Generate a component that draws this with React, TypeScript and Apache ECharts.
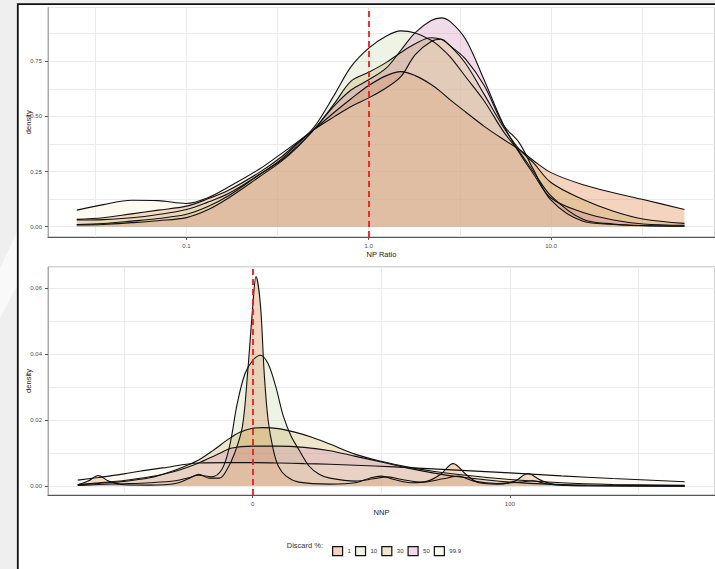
import React, { useEffect, useRef } from 'react';
import * as echarts from 'echarts';

// ---- Legend / groups ----
const discardLevels = ['1', '10', '30', '50', '99.9'];
const fillColors = [
  'rgba(211,79,0,0.25)',
  'rgba(187,207,155,0.25)',
  'rgba(191,155,51,0.25)',
  'rgba(199,111,163,0.25)',
  'rgba(247,235,199,0.25)',
];
const legendColors = ['#f4d3bf', '#eef3e6', '#efe6cc', '#f1dbe8', '#fdfaf1'];

// ---- Top panel: NP Ratio (log scale) ----
const npRatio = [0.025, 0.035, 0.05, 0.07, 0.1, 0.13, 0.17, 0.25, 0.33, 0.4, 0.5, 0.65, 0.8, 1.0, 1.25, 1.5, 1.8, 2.2, 2.5, 2.8, 3.4, 4.3, 5.5, 6.7, 8, 10, 15, 22, 32, 54];
const npDensity1 = [0.033, 0.04, 0.058, 0.075, 0.093, 0.125, 0.165, 0.245, 0.315, 0.375, 0.44, 0.52, 0.58, 0.64, 0.685, 0.703, 0.685, 0.645, 0.61, 0.575, 0.52, 0.455, 0.395, 0.35, 0.3, 0.245, 0.19, 0.154, 0.123, 0.078];
const npDensity10 = [0.03, 0.032, 0.04, 0.055, 0.078, 0.11, 0.15, 0.235, 0.305, 0.37, 0.45, 0.6, 0.726, 0.81, 0.865, 0.888, 0.878, 0.845, 0.81, 0.77, 0.68, 0.57, 0.43, 0.34, 0.25, 0.14, 0.033, 0.012, 0.005, 0.003];
const npDensity30 = [0.01, 0.014, 0.025, 0.037, 0.056, 0.09, 0.14, 0.235, 0.3, 0.36, 0.44, 0.56, 0.66, 0.7, 0.745, 0.79, 0.83, 0.857, 0.85, 0.82, 0.74, 0.6, 0.45, 0.35, 0.29, 0.2, 0.123, 0.07, 0.035, 0.015];
const npDensity50 = [0.008, 0.01, 0.018, 0.027, 0.041, 0.075, 0.13, 0.225, 0.295, 0.355, 0.44, 0.55, 0.62, 0.666, 0.72, 0.8, 0.88, 0.935, 0.947, 0.93, 0.85, 0.665, 0.46, 0.335, 0.24, 0.13, 0.064, 0.03, 0.012, 0.006];
const npDensity999 = [0.075, 0.1, 0.12, 0.118, 0.105, 0.13, 0.18, 0.26, 0.33, 0.38, 0.44, 0.5, 0.545, 0.584, 0.63, 0.68, 0.78, 0.84, 0.85, 0.82, 0.76, 0.64, 0.46, 0.38, 0.26, 0.12, 0.024, 0.01, 0.004, 0.002];
const npDensities = [npDensity1, npDensity10, npDensity30, npDensity50, npDensity999];
const npRatioTicks = [0.1, 1, 10];
const npDensityTicks = [0, 0.25, 0.5, 0.75];
const npReference = 1;

// ---- Bottom panel: NNP ----
const nnp1 = [-68, -64, -60, -56, -50, -40, -30, -25, -21, -17, -13, -10, -7, -4, -2, 0, 1.3, 3, 4.5, 6, 8, 10, 13, 18, 30, 40, 46, 50, 55, 62, 68, 73, 78, 83, 88, 95, 102, 107, 112, 118, 130, 168];
const nnpDensity1 = [0.0004, 0.0015, 0.0032, 0.0015, 0.0004, 0.0003, 0.0008, 0.0022, 0.0036, 0.0024, 0.0024, 0.005, 0.01, 0.018, 0.034, 0.054, 0.0634, 0.055, 0.034, 0.02, 0.011, 0.006, 0.003, 0.0012, 0.0006, 0.001, 0.0025, 0.003, 0.002, 0.001, 0.0015, 0.0035, 0.0068, 0.0035, 0.001, 0.0006, 0.0015, 0.0038, 0.0018, 0.0004, 0.0001, 0];
const nnp10 = [-68, -60, -50, -40, -30, -25, -21, -16, -12, -9, -6, -3, 0, 3, 6, 9, 12, 15, 18, 22, 26, 30, 40, 47, 52, 58, 66, 74, 80, 86, 95, 104, 109, 115, 130, 168];
const nnpDensity10 = [0.0002, 0.0005, 0.0007, 0.001, 0.0016, 0.0025, 0.0033, 0.0028, 0.005, 0.012, 0.025, 0.034, 0.038, 0.0396, 0.037, 0.03, 0.021, 0.015, 0.011, 0.006, 0.0035, 0.0024, 0.0015, 0.0022, 0.0028, 0.002, 0.0012, 0.0022, 0.003, 0.0015, 0.0008, 0.0012, 0.0016, 0.0006, 0.0001, 0];
const nnp30 = [-68, -60, -50, -40, -34, -27, -21, -15, -10, -5, 0, 4, 10, 16, 23, 30, 40, 50, 60, 70, 80, 100, 120, 140, 168];
const nnpDensity30 = [0.0003, 0.0008, 0.0014, 0.0025, 0.0038, 0.0058, 0.0079, 0.011, 0.0139, 0.0163, 0.0175, 0.0177, 0.0174, 0.0164, 0.0148, 0.0127, 0.0096, 0.0075, 0.0058, 0.0045, 0.0035, 0.002, 0.001, 0.0005, 0.0002];
const nnp50 = [-68, -60, -50, -40, -30, -21, -14, -8, 0, 10, 20, 30, 40, 50, 60, 70, 80, 100, 120, 140, 168];
const nnpDensity50 = [0.0005, 0.001, 0.0017, 0.0028, 0.0045, 0.007, 0.0095, 0.0115, 0.0121, 0.0121, 0.0117, 0.0107, 0.009, 0.0073, 0.0055, 0.004, 0.0028, 0.0012, 0.0005, 0.0002, 0.0001];
const nnp999 = [-68, -60, -50, -44, -35, -21, -10, 0, 10, 20, 30, 40, 55, 70, 85, 100, 120, 140, 168];
const nnpDensity999 = [0.0018, 0.0026, 0.0037, 0.0045, 0.0055, 0.007, 0.0071, 0.0071, 0.007, 0.0068, 0.0066, 0.0063, 0.0058, 0.0052, 0.0046, 0.004, 0.0031, 0.0023, 0.0013];
const nnpX = [nnp1, nnp10, nnp30, nnp50, nnp999];
const nnpDensities = [nnpDensity1, nnpDensity10, nnpDensity30, nnpDensity50, nnpDensity999];
const nnpTicks = [0, 100];
const nnpDensityTicks = [0, 0.02, 0.04, 0.06];
const nnpReference = 0;

const FONT = 'Liberation Sans, Arial, Helvetica, sans-serif';
const GRID_LINE = '#ebebeb';
const TICK_TEXT = '#4d4d4d';

function gridAxisX(gridIndex: number, min: number, max: number, step: number) {
  return {
    type: 'value', gridIndex, position: 'bottom', min, max, minInterval: step, maxInterval: step,
    axisLine: { show: true, onZero: false, lineStyle: { color: '#555', width: 1.2 } },
    axisTick: { show: false }, axisLabel: { show: false },
    splitLine: { show: true, lineStyle: { color: GRID_LINE, width: 1 } },
  };
}
function gridAxisY(gridIndex: number, min: number, max: number, step: number) {
  return {
    type: 'value', gridIndex, position: 'left', min, max, minInterval: step, maxInterval: step,
    axisLine: { show: true, onZero: false, lineStyle: { color: '#aaa', width: 1 } },
    axisTick: { show: false }, axisLabel: { show: false },
    splitLine: { show: true, lineStyle: { color: GRID_LINE, width: 1 } },
  };
}

const markRef = (x: number) => ({
  silent: true,
  symbol: ['none', 'none'],
  label: { show: false },
  lineStyle: { color: '#ee1c1c', type: [6, 4], width: 1.8 },
  data: [{ xAxis: x }],
});

function densitySeries(name: string, i: number, xIdx: number, data: number[][], ref: number | null) {
  return {
    type: 'line', name, xAxisIndex: xIdx, yAxisIndex: xIdx,
    data,
    smooth: 0.35, symbol: 'none', showSymbol: false,
    lineStyle: { color: '#111', width: 1.1 },
    itemStyle: { color: legendColors[i] },
    areaStyle: { color: fillColors[i], opacity: 1 },
    markLine: ref === null ? undefined : markRef(ref),
  };
}

function buildOption() {
  const last = discardLevels.length - 1;
  const topSeries = discardLevels.map((name, i) =>
    densitySeries(name, i, 0, npRatio.map((r, j) => [Math.log10(r), npDensities[i][j]]), i === last ? Math.log10(npReference) : null));
  const bottomSeries = discardLevels.map((name, i) =>
    densitySeries(name, i, 2, nnpX[i].map((v, j) => [v, nnpDensities[i][j]]), i === last ? nnpReference : null));

  const npMin = -1.76, npMax = 1.9;
  const nnpMin = -79.6, nnpMax = 179.8;
  const topYMin = -0.047, topYMax = 0.994;
  const botYMin = -0.0027, botYMax = 0.0663;

  const labelAxisY = (gridIndex: number, min: number, max: number, ticks: number[]) => ({
    type: 'value', gridIndex, position: 'left', min, max,
    axisLine: { show: false, onZero: false },
    axisTick: { show: true, customValues: ticks, length: 3, lineStyle: { color: '#555' } },
    axisLabel: { customValues: ticks, formatter: (v: number) => v.toFixed(2), fontSize: 6, color: TICK_TEXT, margin: 6 },
    splitLine: { show: false },
    name: 'density', nameLocation: 'middle', nameGap: 16, nameMoveOverlap: false,
    nameTextStyle: { fontSize: 7.5, color: '#222' },
  });

  return {
    animation: false,
    backgroundColor: '#efefef',
    textStyle: { fontFamily: FONT },
    graphic: [
      { type: 'polygon', z: -100, shape: { points: [[0, 268], [17, 232], [17, 286], [0, 318]] }, style: { fill: '#f9f9f9' } },
      { type: 'rect', z: -99, shape: { x: 17.8, y: 4.2, width: 900, height: 900 }, style: { fill: '#ffffff', stroke: '#111', lineWidth: 1.8 } },
      { type: 'text', x: 323, y: 545.5, style: { text: 'Discard %:', fill: '#333', fontSize: 7.5, fontFamily: FONT, align: 'right', verticalAlign: 'middle' } },
    ],
    grid: [
      { left: 48, top: 7.5, right: -8, height: 229.5, show: true, borderColor: '#aaa', borderWidth: 1, backgroundColor: 'transparent' },
      { left: 48, top: 267, right: -8, height: 228, show: true, borderColor: '#aaa', borderWidth: 1, backgroundColor: 'transparent' },
    ],
    xAxis: [
      gridAxisX(0, npMin, npMax, 0.5),
      {
        type: 'value', gridIndex: 0, position: 'bottom', min: npMin, max: npMax,
        axisLine: { show: false, onZero: false },
        axisTick: { show: true, customValues: npRatioTicks.map((t) => Math.log10(t)), length: 3, lineStyle: { color: '#555' } },
        axisLabel: { customValues: npRatioTicks.map((t) => Math.log10(t)), formatter: (v: number) => Math.pow(10, v).toFixed(1), fontSize: 6, color: TICK_TEXT, margin: 6 },
        splitLine: { show: false },
        name: 'NP Ratio', nameLocation: 'middle', nameGap: 13, nameTextStyle: { fontSize: 7.5, color: '#222' },
      },
      gridAxisX(1, nnpMin, nnpMax, 50),
      {
        type: 'value', gridIndex: 1, position: 'bottom', min: nnpMin, max: nnpMax,
        axisLine: { show: false, onZero: false },
        axisTick: { show: true, customValues: nnpTicks, length: 3, lineStyle: { color: '#555' } },
        axisLabel: { customValues: nnpTicks, formatter: (v: number) => String(Math.round(v)), fontSize: 6, color: TICK_TEXT, margin: 6 },
        splitLine: { show: false },
        name: 'NNP', nameLocation: 'middle', nameGap: 13, nameTextStyle: { fontSize: 7.5, color: '#222' },
      },
    ],
    yAxis: [
      gridAxisY(0, topYMin, topYMax, 0.125),
      labelAxisY(0, topYMin, topYMax, npDensityTicks),
      gridAxisY(1, botYMin, botYMax, 0.01),
      labelAxisY(1, botYMin, botYMax, nnpDensityTicks),
    ],
    legend: {
      left: 327, top: 541, itemWidth: 10, itemHeight: 9, itemGap: 4, icon: 'rect', selectedMode: false,
      textStyle: { fontSize: 6, color: '#333', fontFamily: FONT },
      data: discardLevels.map((name, i) => ({ name, icon: 'rect', itemStyle: { color: legendColors[i], borderColor: '#111', borderWidth: 1.2 } })),
    },
    series: [...topSeries, ...bottomSeries],
  };
}

export default function App() {
  const ref = useRef<HTMLDivElement>(null);
  useEffect(() => {
    if (!ref.current) return;
    const chart = echarts.init(ref.current, null, { renderer: 'svg' });
    chart.setOption(buildOption() as any);
    return () => chart.dispose();
  }, []);
  return <div ref={ref} style={{ position: 'absolute', left: 0, top: 0, width: 715, height: 569 }} />;
}
